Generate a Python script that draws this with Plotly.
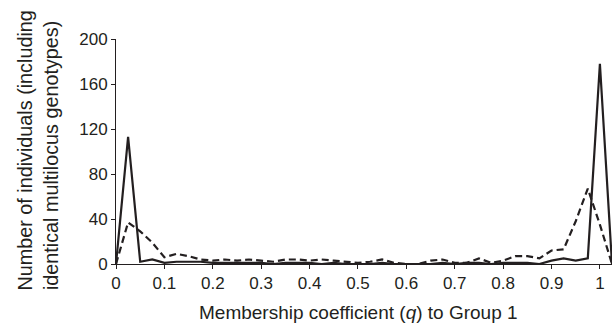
import plotly.graph_objects as go

q_values = [0.0, 0.025, 0.05, 0.075, 0.1, 0.125, 0.15, 0.175, 0.2, 0.225,
            0.25, 0.275, 0.3, 0.325, 0.35, 0.375, 0.4, 0.425, 0.45, 0.475,
            0.5, 0.525, 0.55, 0.575, 0.6, 0.625, 0.65, 0.675, 0.7, 0.725,
            0.75, 0.775, 0.8, 0.825, 0.85, 0.875, 0.9, 0.925, 0.95, 0.975,
            1.0, 1.025]

solid_counts = [0, 113, 2, 4, 1, 2, 2, 2, 1, 1,
                1, 1, 1, 0, 1, 1, 1, 0, 1, 0,
                0, 0, 1, 0, 0, 0, 0, 1, 0, 1,
                1, 0, 1, 1, 1, 0, 3, 5, 3, 5,
                178, 0]

dashed_counts = [0, 37, 29, 19, 6, 9, 7, 4, 3, 4,
                 3, 4, 3, 2, 4, 4, 3, 4, 3, 2,
                 1, 2, 4, 1, 0, 0, 3, 4, 1, 1,
                 5, 1, 3, 7, 7, 5, 12, 13, 38, 67,
                 35, 0]

x_ticks = [0, 0.1, 0.2, 0.3, 0.4, 0.5, 0.6, 0.7, 0.8, 0.9, 1]
x_tick_labels = ["0", "0.1", "0.2", "0.3", "0.4", "0.5", "0.6", "0.7", "0.8", "0.9", "1"]
y_ticks = [0, 40, 80, 120, 160, 200]

x_title = "Membership coefficient (<i>q</i>) to Group 1"
y_title_lines = ["Number of individuals (including", "identical multilocus genotypes)"]

ink = "#231f20"
font = "Liberation Sans, Arial, sans-serif"

fig = go.Figure()
fig.add_trace(go.Scatter(x=q_values, y=dashed_counts, mode="lines",
                         line=dict(color=ink, width=2.2, dash="7px,4px"),
                         showlegend=False))
fig.add_trace(go.Scatter(x=q_values, y=solid_counts, mode="lines",
                         line=dict(color=ink, width=2.2),
                         showlegend=False))

fig.add_annotation(text=x_title, xref="paper", yref="paper", x=0.488, y=0,
                   xanchor="center", yanchor="middle", yshift=-48,
                   showarrow=False, font=dict(size=19, color=ink, family=font))
for line_text, shift in zip(y_title_lines, [-91, -65]):
    fig.add_annotation(text=line_text, xref="paper", yref="paper", x=0, y=-0.127,
                       xanchor="center", yanchor="bottom", xshift=shift,
                       textangle=-90, showarrow=False,
                       font=dict(size=19.8, color=ink, family=font))

fig.update_layout(
    width=614, height=328,
    margin=dict(l=116, r=2, t=39, b=64),
    paper_bgcolor="white", plot_bgcolor="white",
    font=dict(family=font, size=17, color=ink),
    xaxis=dict(range=[0, 1.025], tickvals=x_ticks, ticktext=x_tick_labels,
               showgrid=False, zeroline=False, showline=True, linecolor=ink,
               linewidth=1, ticks="outside", ticklen=4, tickcolor=ink,
               tickfont=dict(size=17), automargin=False),
    yaxis=dict(range=[0, 200], tickvals=y_ticks, showgrid=False, zeroline=False,
               showline=True, linecolor=ink, linewidth=1, ticks="outside",
               ticklen=4, tickcolor=ink, tickfont=dict(size=17), automargin=False),
)

fig.write_html("out.html", config={"displayModeBar": False},
               post_script="document.body.style.margin='0';")
